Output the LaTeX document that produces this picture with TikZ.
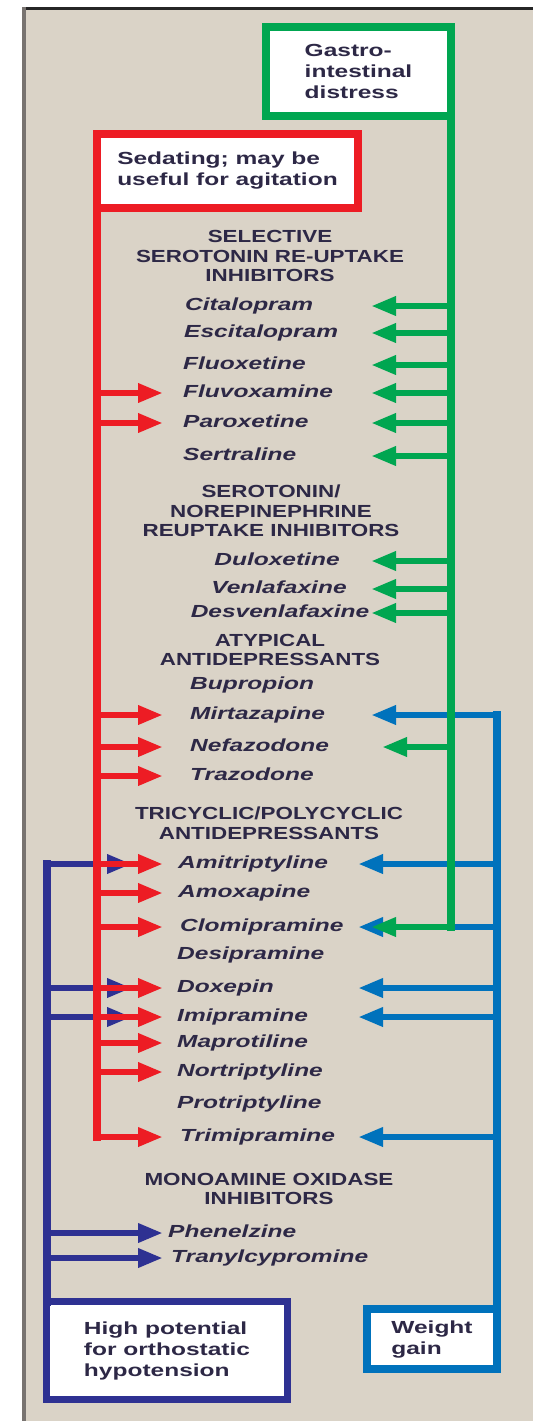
\documentclass[tikz,border=0pt]{standalone}
\usepackage{fontspec}
\newfontfamily\drugfont{Liberation Sans}[FakeStretch=1.4]
\newfontfamily\headfont{Liberation Sans}[FakeStretch=1.28]
\usetikzlibrary{arrows.meta}
\definecolor{sedred}{HTML}{ED1C24}
\definecolor{gigreen}{HTML}{00A651}
\definecolor{wgblue}{HTML}{0072BC}
\definecolor{hypnavy}{HTML}{2E3192}
\definecolor{panel}{HTML}{DAD3C7}
\definecolor{edge}{HTML}{787370}
\definecolor{ink}{HTML}{2D2846}

\begin{document}
\begin{tikzpicture}[x=1pt, y=-1pt,
    drug/.style={anchor=west, inner sep=0pt, text height=12pt, text depth=3.5pt, text=ink,
      font={\drugfont\bfseries\itshape\fontsize{17.5}{21}\selectfont}},
    classhead/.style={align=center, inner sep=0pt, text=ink,
      font={\headfont\bfseries\fontsize{17.5}{19.5}\selectfont}},
    keybox/.style={draw=#1, fill=white, line width=8pt, outer sep=0pt, align=left, inner sep=0pt, text=ink,
      font={\drugfont\bfseries\fontsize{17.5}{21}\selectfont}},
    spine/.style={draw=#1, line width=8pt, line cap=rect},
    hit/.style={draw=#1, line width=6.5pt, -{Triangle[length=25pt, width=18pt]}}]
  \useasboundingbox (0,0) rectangle (533,1421);
  % page, panel and its edges
  \fill[white] (0,0) rectangle (533,1421);
  \fill[panel] (24,9) rectangle (533,1421);
  \fill[black!85] (22,7) rectangle (533,10);
  \fill[edge] (22,7) rectangle (26,1421);
  % key boxes
  \node[keybox=gigreen, minimum width=185pt, minimum height=89pt] (gi) at (358.5,71.5) {Gastro-\\intestinal\\distress};
  \node[keybox=sedred, minimum width=261pt, minimum height=74pt] (sed) at (227.5,171) {Sedating; may be\\useful for agitation};
  \node[keybox=hypnavy, line width=7pt, minimum width=241pt, minimum height=98pt] (hyp) at (167,1350.5) {High potential\\for orthostatic\\hypotension};
  \node[keybox=wgblue, minimum width=130pt, minimum height=60pt] (wg) at (432,1339) {Weight\\gain};
  % drug classes
  \node[classhead] (ssri) at (270,256) {SELECTIVE\\SEROTONIN RE-UPTAKE\\INHIBITORS};
  \node[classhead] (snri) at (271,511) {SEROTONIN/\\NOREPINEPHRINE\\REUPTAKE INHIBITORS};
  \node[classhead] (atyp) at (270,650) {ATYPICAL\\ANTIDEPRESSANTS};
  \node[classhead] (tca) at (269,823) {TRICYCLIC/POLYCYCLIC\\ANTIDEPRESSANTS};
  \node[classhead] (maoi) at (269,1189) {MONOAMINE OXIDASE\\INHIBITORS};
  % drugs
  \node[drug] (cit) at (185,306) {Citalopram};
  \node[drug] (esc) at (184,333) {Escitalopram};
  \node[drug] (flx) at (183,365) {Fluoxetine};
  \node[drug] (flv) at (183,393) {Fluvoxamine};
  \node[drug] (par) at (183,423) {Paroxetine};
  \node[drug] (ser) at (183,456) {Sertraline};
  \node[drug, anchor=center] (dul) at (277,561) {Duloxetine};
  \node[drug, anchor=center] (ven) at (279,589) {Venlafaxine};
  \node[drug, anchor=center] (des) at (280,613) {Desvenlafaxine};
  \node[drug] (bup) at (190,685) {Bupropion};
  \node[drug] (mir) at (190,715) {Mirtazapine};
  \node[drug] (nef) at (190,747) {Nefazodone};
  \node[drug] (tra) at (190,776) {Trazodone};
  \node[drug] (ami) at (178,864) {Amitriptyline};
  \node[drug] (amo) at (178,893) {Amoxapine};
  \node[drug] (clo) at (180,927) {Clomipramine};
  \node[drug] (desi) at (177,955) {Desipramine};
  \node[drug] (dox) at (177,988) {Doxepin};
  \node[drug] (imi) at (177,1017) {Imipramine};
  \node[drug] (map) at (177,1043) {Maprotiline};
  \node[drug] (nor) at (177,1072) {Nortriptyline};
  \node[drug] (pro) at (177,1104) {Protriptyline};
  \node[drug] (tri) at (180,1137) {Trimipramine};
  \node[drug] (phe) at (168,1233) {Phenelzine};
  \node[drug] (tcp) at (171,1258) {Tranylcypromine};
  % where the arrows end
  \coordinate (rtip) at (163,0);
  \coordinate (ntipa) at (132,0);
  \coordinate (ntipb) at (163,0);
  \coordinate (gtip) at (371,0);
  \coordinate (gtipb) at (382,0);
  \coordinate (btip) at (358,0);
  % weight gain
  \draw[spine=wgblue] (wg.north east) -- (wg.north east |- mir.west);
  \draw[hit=wgblue] (wg.north east |- mir.west) -- (gtip |- mir.west);
  \foreach \d in {ami,clo,dox,imi,tri}
    \draw[hit=wgblue] (wg.north east |- \d.west) -- (btip |- \d.west);
  % orthostatic hypotension
  \draw[spine=hypnavy] (hyp.north west) -- (hyp.north west |- ami.west);
  \foreach \d in {ami,dox,imi}
    \draw[hit=hypnavy] (hyp.north west |- \d.west) -- (ntipa |- \d.west);
  \foreach \d in {phe,tcp}
    \draw[hit=hypnavy] (hyp.north west |- \d.west) -- (ntipb |- \d.west);
  % sedating
  \draw[spine=sedred] (sed.south west) -- (sed.south west |- tri.west);
  \foreach \d in {flv,par,mir,nef,tra,ami,amo,clo,dox,imi,map,nor,tri}
    \draw[hit=sedred] (sed.south west |- \d.west) -- (rtip |- \d.west);
  % gastrointestinal
  \draw[spine=gigreen] (gi.south east) -- (gi.south east |- clo.west);
  \foreach \d in {cit,esc,flx,flv,par,ser,dul,ven,des,clo}
    \draw[hit=gigreen] (gi.south east |- \d.west) -- (gtip |- \d.west);
  \draw[hit=gigreen] (gi.south east |- nef.west) -- (gtipb |- nef.west);
\end{tikzpicture}
\end{document}
